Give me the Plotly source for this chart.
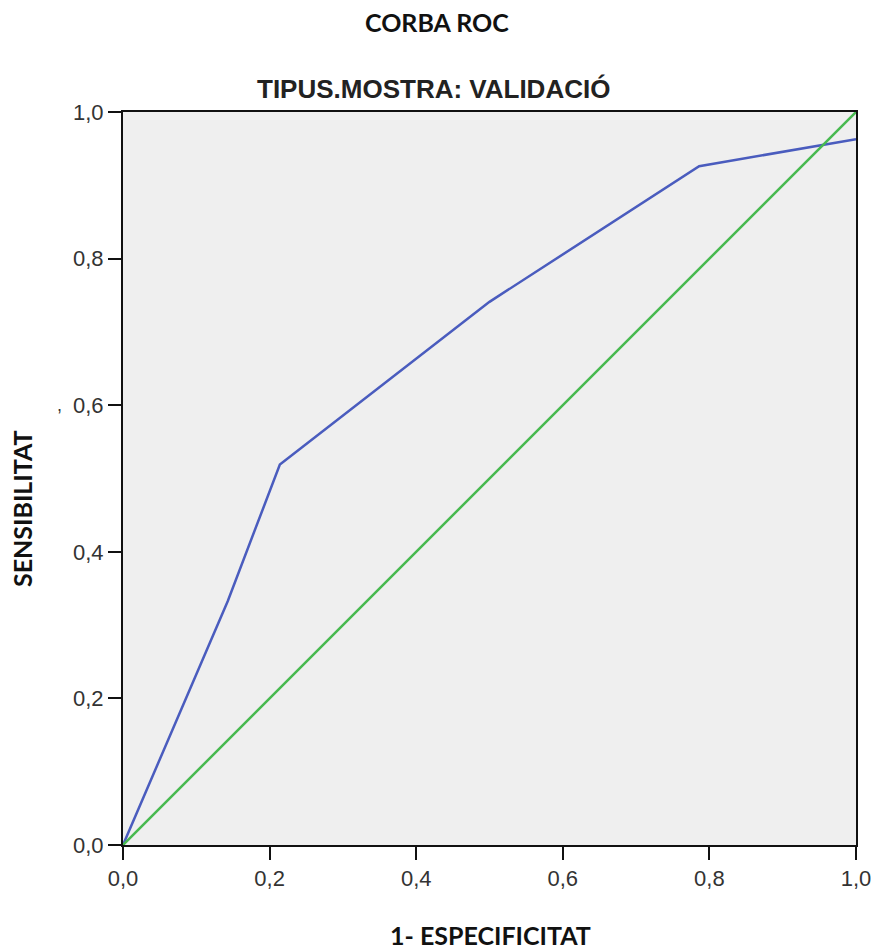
import plotly.graph_objects as go

# ROC curve coordinates (1 - specificity, sensitivity)
fpr = [0.0, 0.143, 0.214, 0.5, 0.786, 1.0]
tpr = [0.0, 0.333, 0.519, 0.741, 0.926, 0.963]

# reference diagonal
diag_x = [0.0, 1.0]
diag_y = [0.0, 1.0]

tick_vals = [0.0, 0.2, 0.4, 0.6, 0.8, 1.0]
tick_text = ["0,0", "0,2", "0,4", "0,6", "0,8", "1,0"]

W, H = 876, 951
L, R, T, B = 123, 20, 112, 106
PW, PH = W - L - R, H - T - B

fig = go.Figure()
fig.add_trace(go.Scatter(x=fpr, y=tpr, mode="lines",
                         line=dict(color="#4a5cbe", width=2.5), showlegend=False))
fig.add_trace(go.Scatter(x=diag_x, y=diag_y, mode="lines",
                         line=dict(color="#47b94f", width=2.5), showlegend=False))

axis_common = dict(
    range=[0, 1], tickvals=tick_vals, ticktext=tick_text, automargin=False,
    showgrid=False, zeroline=False, showline=True, linecolor="#111",
    linewidth=2, mirror=True, ticks="outside", ticklen=13, tickwidth=1.5,
    tickcolor="#111",
    tickfont=dict(family="Liberation Sans, Arial", size=22, color="#333"),
)
fig.update_xaxes(**axis_common)
fig.update_yaxes(**axis_common)
fig.update_yaxes(ticklabelstandoff=0)

def py(px):
    """paper y from a pixel row measured from the top"""
    return (H - B - px) / PH

def px_x(px):
    return (px - L) / PW

annotations = [
    dict(text="<b>CORBA ROC</b>", x=px_x(437), y=py(22),
         font=dict(family="Lato", size=25, color="#111")),
    dict(text="<b>TIPUS.MOSTRA: VALIDACIÓ</b>", x=px_x(433), y=py(89),
         font=dict(family="Liberation Sans, Arial", size=26, color="#222")),
    dict(text="<b>1- ESPECIFICITAT</b>", x=px_x(490), y=py(935),
         font=dict(family="Lato", size=25, color="#111")),
    dict(text="<b>SENSIBILITAT</b>", x=px_x(22), y=py(508), textangle=-90,
         font=dict(family="Lato", size=25, color="#111")),
    dict(text=",", x=px_x(60), y=py(405),
         font=dict(family="Liberation Sans, Arial", size=18, color="#333")),
]
for a in annotations:
    a.update(xref="paper", yref="paper", showarrow=False,
             xanchor="center", yanchor="middle")

fig.update_layout(
    width=W, height=H,
    margin=dict(l=L, r=R, t=T, b=B),
    paper_bgcolor="white", plot_bgcolor="#efefef",
    annotations=annotations,
)

fig.write_html("out.html")
